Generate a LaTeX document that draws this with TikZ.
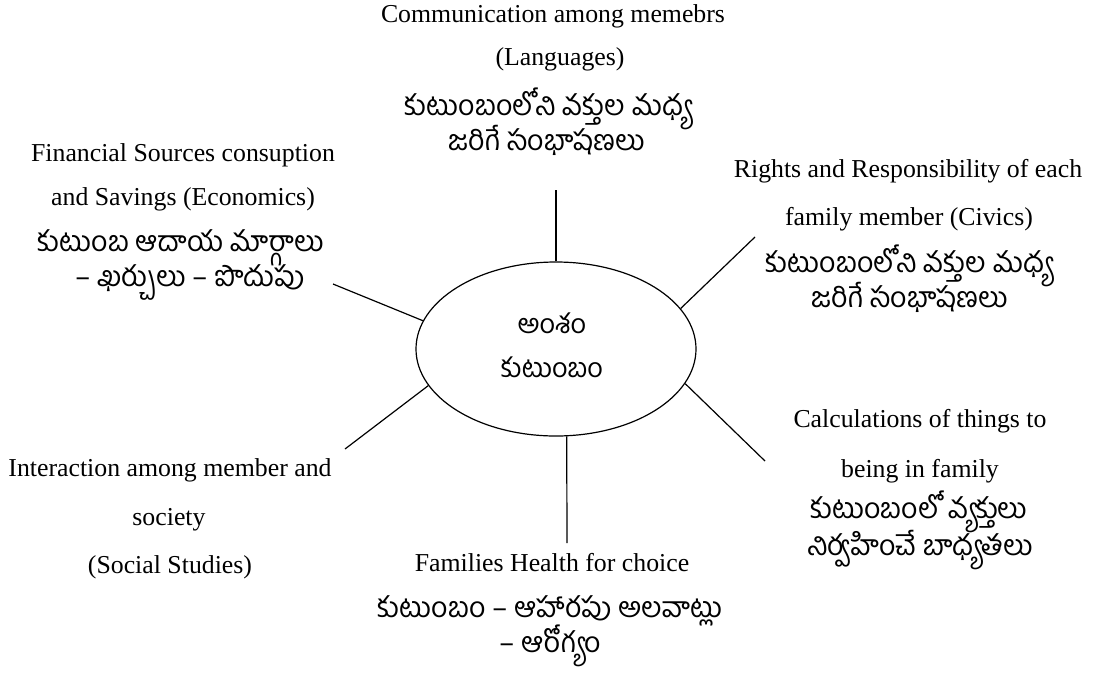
\documentclass[tikz,border=0pt]{standalone}
\usepackage{fontspec}
\setmainfont{Liberation Serif}
\newfontfamily\telfont[Script=Telugu]{Hind Guntur}
\usetikzlibrary{shapes.geometric}

\tikzset{
  eng/.style={anchor=base, inner sep=0pt, font=\fontsize{25.8}{30}\selectfont},
  tel/.style={anchor=base, inner sep=0pt, font=\telfont\fontsize{28.5}{32}\selectfont},
  spoke/.style={line width=1.2pt},
}

\begin{document}
\begin{tikzpicture}[x=1pt, y=-1pt]
  \useasboundingbox (0,0) rectangle (1109,673);

  % centre of the web
  \node[draw, ellipse, line width=1.2pt, minimum width=280pt, minimum height=174pt, inner sep=0pt] (topic) at (556,349) {};
  \node[tel, font=\telfont\fontsize{27}{30}\selectfont] (topic1) at (552,333) {అంశం};
  \node[tel, font=\telfont\fontsize{27}{30}\selectfont] (topic2) at (552,377) {కుటుంబం};

  % free ends of the spokes
  \coordinate (endN) at (556,190);
  \coordinate (endNE) at (755,237);
  \coordinate (endNW) at (333,284);
  \coordinate (endSW) at (345,449);
  \coordinate (endSE) at (765,461);
  \coordinate (endS) at (567,543);

  \draw[spoke] (topic.north) -- (endN);
  \draw[spoke] (topic.18) -- (endNE);
  \draw[spoke] (topic.168) -- (endNW);
  \draw[spoke] (topic.196.5) -- (endSW);
  \draw[spoke] (topic.-15) -- (endSE);
  \draw[spoke] (topic.-83) -- (endS);

  % languages
  \node[eng] (comm1) at (553,22) {Communication among memebrs};
  \node[eng] (comm2) at (560,65) {(Languages)};
  \node[tel] (comm3) at (548,115) {కుటుంబంలోని వక్తుల మధ్య};
  \node[tel] (comm4) at (547,150) {జరిగే సంభాషణలు};

  % economics
  \node[eng] (fin1) at (183,161) {Financial Sources consuption};
  \node[eng] (fin2) at (183,205) {and Savings (Economics)};
  \node[tel] (fin3) at (181,251) {కుటుంబ ఆదాయ మార్గాలు};
  \node[tel] (fin4) at (190,286) {– ఖర్చులు – పొదుపు};

  % civics
  \node[eng] (civ1) at (908,177) {Rights and Responsibility of each};
  \node[eng] (civ2) at (909,225) {family member (Civics)};
  \node[tel] (civ3) at (909,272) {కుటుంబంలోని వక్తుల మధ్య};
  \node[tel] (civ4) at (910,307) {జరిగే సంభాషణలు};

  % maths
  \node[eng] (calc1) at (920,427) {Calculations of things to};
  \node[eng] (calc2) at (920,477) {being in family};
  \node[tel] (calc3) at (919,518) {కుటుంబంలో వ్యక్తులు};
  \node[tel] (calc4) at (920,555) {నిర్వహించే బాధ్యతలు};

  % social studies
  \node[eng] (soc1) at (170,476) {Interaction among member and};
  \node[eng] (soc2) at (169,525) {society};
  \node[eng] (soc3) at (170,573) {(Social Studies)};

  % health
  \node[eng] (health1) at (552,571) {Families Health for choice};
  \node[tel] (health2) at (550,617) {కుటుంబం – ఆహారపు అలవాట్లు};
  \node[tel] (health3) at (550,652) {– ఆరోగ్యం};
\end{tikzpicture}
\end{document}
